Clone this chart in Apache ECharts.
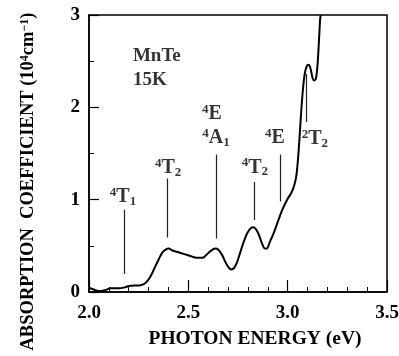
<!DOCTYPE html>
<html>
<head>
<meta charset="utf-8">
<script src="https://cdn.jsdelivr.net/npm/echarts@6/dist/echarts.min.js"></script>
<style>
html,body{margin:0;padding:0;background:#fff;}
#chart{width:399px;height:356px;}
</style>
</head>
<body>
<div id="chart"></div>
<script>
// Absorption spectrum of MnTe at 15K (photon energy in eV, absorption in 10^4 cm^-1)
var energy = [2.00,2.02,2.05,2.08,2.11,2.15,2.18,2.20,2.23,2.25,2.27,2.29,2.31,2.33,2.35,2.37,2.39,2.40,2.42,2.45,2.48,2.51,2.54,2.57,2.59,2.61,2.635,2.65,2.67,2.69,2.705,2.715,2.73,2.745,2.76,2.78,2.80,2.825,2.84,2.855,2.87,2.885,2.895,2.91,2.93,2.95,2.975,3.00,3.02,3.035,3.045,3.055,3.065,3.075,3.085,3.095,3.105,3.115,3.125,3.133,3.142,3.15,3.157,3.163,3.166];
var absorption = [0.05,0.03,0.01,0.02,0.04,0.04,0.05,0.065,0.07,0.07,0.08,0.11,0.17,0.26,0.35,0.43,0.465,0.47,0.45,0.43,0.41,0.39,0.37,0.37,0.40,0.44,0.47,0.46,0.40,0.31,0.26,0.245,0.26,0.32,0.42,0.55,0.65,0.70,0.68,0.62,0.53,0.47,0.47,0.54,0.64,0.76,0.90,1.01,1.08,1.17,1.28,1.52,1.85,2.15,2.35,2.44,2.46,2.42,2.32,2.29,2.31,2.45,2.70,2.94,3.0];

// Transition marker lines
var markerX  = [2.176, 2.396, 2.639, 2.83, 2.961, 3.092];
var markerY0 = [0.195, 0.59, 0.58, 0.78, 0.98, 1.84];
var markerY1 = [0.89, 1.23, 1.49, 1.19, 1.49, 2.36];

// Transition labels
var labelX = [2.171, 2.398, 2.619, 2.639, 2.835, 2.936, 3.137];
var labelY = [1.03, 1.34, 1.93, 1.67, 1.35, 1.67, 1.66];
var labelText = ['{sup|4}{m|T}{sub|1}','{sup|4}{m|T}{sub|2}','{sup|4}{m|E}','{sup|4}{m|A}{sub|1}','{sup|4}{m|T}{sub|2}','{sup|4}{m|E}','{sup|2}{m|T}{sub|2}'];

// Sample annotation
var noteX = [2.221, 2.221];
var noteY = [2.56, 2.30];
var noteText = ['MnTe', '15K'];

var xTicks = [2.0, 2.5, 3.0, 3.5];
var yTicks = [0, 1, 2, 3];

var FONT = 'Liberation Serif';
var rich = {
  sup: {fontFamily: FONT, fontWeight: 'bold', fontSize: 13, lineHeight: 12, verticalAlign: 'top', color: '#000'},
  m:   {fontFamily: FONT, fontWeight: 'bold', fontSize: 20, lineHeight: 22, color: '#000'},
  sub: {fontFamily: FONT, fontWeight: 'bold', fontSize: 13, lineHeight: 12, verticalAlign: 'bottom', color: '#000'}
};

var chart = echarts.init(document.getElementById('chart'), null, {renderer: 'canvas'});
var curve = energy.map(function (e, i) { return [e, absorption[i]]; });
var markers = markerX.map(function (x, i) { return {coords: [[x, markerY0[i]], [x, markerY1[i]]]}; });
var labels = labelX.map(function (x, i) { return {value: [x, labelY[i]], txt: labelText[i]}; });
var notes = noteX.map(function (x, i) { return {value: [x, noteY[i]], txt: noteText[i]}; });

chart.setOption({
  animation: false,
  backgroundColor: '#fff',
  grid: {left: 89, top: 15, width: 298, height: 277, show: true, borderColor: '#000', borderWidth: 1.5,
         backgroundColor: 'transparent', containLabel: false, outerBoundsMode: 'none'},
  xAxis: {
    type: 'value', min: 2.0, max: 3.5, interval: 0.5,
    name: 'PHOTON ENERGY (eV)', nameLocation: 'middle', nameGap: 37,
    nameTextStyle: {fontFamily: FONT, fontWeight: 'bold', fontSize: 19.5, color: '#000', padding: [0, 0, 0, 34]},
    axisLine: {show: true, lineStyle: {color: '#000', width: 1.5}},
    axisTick: {show: true, inside: true, length: 12, lineStyle: {color: '#000', width: 1.2}},
    minorTick: {show: true, splitNumber: 5, length: 5, lineStyle: {color: '#000', width: 1}},
    splitLine: {show: false},
    axisLabel: {margin: 12, fontFamily: FONT, fontWeight: 'bold', fontSize: 19, color: '#000',
      formatter: function (v) { var i = xTicks.indexOf(Math.round(v * 10) / 10); return i >= 0 ? xTicks[i].toFixed(1) : ''; }}
  },
  yAxis: {
    type: 'value', min: 0, max: 3, interval: 1,
    name: 'ABSORPTION  COEFFICIENT (10{sup|4}cm{sup|\u22121})', nameLocation: 'middle', nameGap: 51, nameRotate: 90,
    nameTextStyle: {fontFamily: FONT, fontWeight: 'bold', fontSize: 18.5, color: '#000', padding: [0, 56, 0, 0],
      rich: {sup: {fontFamily: FONT, fontWeight: 'bold', fontSize: 12, lineHeight: 12, verticalAlign: 'top', color: '#000'}}},
    axisLine: {show: true, lineStyle: {color: '#000', width: 1.5}},
    axisTick: {show: true, inside: true, length: 10, lineStyle: {color: '#000', width: 1.2}},
    minorTick: {show: true, splitNumber: 2, length: 5, lineStyle: {color: '#000', width: 1}},
    splitLine: {show: false},
    axisLabel: {margin: 9, fontFamily: FONT, fontWeight: 'bold', fontSize: 19, color: '#000',
      formatter: function (v) { return yTicks.indexOf(v) >= 0 ? String(v) : ''; }}
  },
  series: [
    {type: 'line', data: curve, smooth: 0.3, showSymbol: false, clip: true,
     lineStyle: {color: '#000', width: 2}},
    {type: 'lines', coordinateSystem: 'cartesian2d', data: markers,
     lineStyle: {color: '#222', width: 1.2, opacity: 1}},
    {type: 'scatter', symbolSize: 0, data: labels,
     label: {show: true, position: [0, 0], align: 'center', verticalAlign: 'middle',
       formatter: function (p) { return p.data.txt; }, rich: rich}},
    {type: 'scatter', symbolSize: 0, data: notes,
     label: {show: true, position: [0, 0], align: 'left', verticalAlign: 'middle',
       fontFamily: FONT, fontWeight: 'bold', fontSize: 19, color: '#000',
       formatter: function (p) { return p.data.txt; }}}
  ]
});
</script>
</body>
</html>
